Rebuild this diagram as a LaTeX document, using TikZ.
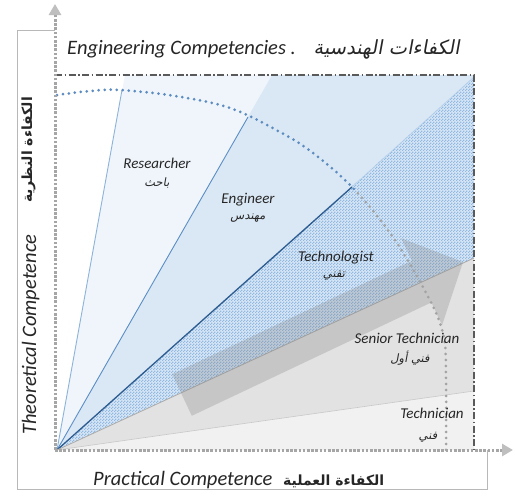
\documentclass[tikz,border=0pt]{standalone}
\usepackage{fontspec}
\setmainfont{Carlito}
\newfontfamily\arabicfont[Script=Arabic]{DejaVu Sans}
\newfontfamily\arabicslant[Script=Arabic,FakeSlant=0.18]{DejaVu Sans}
\TeXXeTstate=1
\usetikzlibrary{patterns,arrows.meta}
\pgfdeclarepatternformonly{finecheck}{\pgfpointorigin}{\pgfqpoint{3pt}{3pt}}{\pgfqpoint{3pt}{3pt}}{%
  \pgfpathrectangle{\pgfpointorigin}{\pgfqpoint{1.5pt}{1.5pt}}%
  \pgfpathrectangle{\pgfqpoint{1.5pt}{1.5pt}}{\pgfqpoint{1.5pt}{1.5pt}}%
  \pgfusepath{fill}}
\definecolor{blueA}{HTML}{EFF5FB}
\definecolor{blueB}{HTML}{DAE8F5}
\definecolor{blueC}{HTML}{D6E6F6}
\definecolor{hatchblue}{HTML}{93B9E1}
\definecolor{greyS}{HTML}{E2E2E2}
\definecolor{greyT}{HTML}{F1F1F1}
\definecolor{rayA}{HTML}{8DB3DA}
\definecolor{rayB}{HTML}{5B8EC6}
\definecolor{rayC}{HTML}{2D5C90}
\definecolor{axisgrey}{HTML}{A6A6A6}
\definecolor{arcblue}{HTML}{5D8CC0}
\definecolor{arcgrey}{HTML}{A3A3A3}
\definecolor{borderdark}{HTML}{5A5A5A}
\definecolor{txt}{HTML}{262626}
\tikzset{
  frameline/.style={draw=black!28, line width=0.8pt},
  rayline/.style={line width=0.9pt},
  axisline/.style={draw=axisgrey, line width=3pt, dash pattern=on 2.6pt off 1.6pt},
  axistip/.style={-{Triangle[width=12pt,length=11pt,fill=black!25,color=black!25]}},
  chartborder/.style={draw=borderdark, line width=1.3pt, dash pattern=on 7pt off 2.5pt on 1.5pt off 2.5pt},
  arcdots/.style={line width=3pt, line cap=round, dash pattern=on 0pt off 6pt},
  biglabel/.style={font=\fontsize{20.5}{24}\selectfont\itshape, text=txt, inner sep=0pt},
  arabbig/.style={font=\arabicfont\bfseries\fontsize{14}{18}\selectfont, text=txt, inner sep=0pt},
  lbl/.style={font=\fontsize{15}{17}\selectfont\itshape, text=txt, inner sep=0pt},
  albl/.style={font=\arabicslant\fontsize{11.5}{13}\selectfont, text=txt, inner sep=0pt},
}
\begin{document}
\begin{tikzpicture}[x=1pt,y=-1pt]
\useasboundingbox (0,0) rectangle (515,496);
\fill[white] (0,0) rectangle (515,496);

% outer thin frame
\draw[frameline] (55,30) -- (17,30) -- (17,489) -- (487,489) -- (487,450);

% key points
\coordinate (O) at (57,450);
\coordinate (r1) at (122,90);
\coordinate (r1t) at (125,75);
\coordinate (r2) at (248,117);
\coordinate (r2t) at (272,75);
\coordinate (r3) at (352,187);
\coordinate (r3t) at (474,77);
\coordinate (tr) at (474,75);
\coordinate (sEnd) at (474,258);
\coordinate (tEnd) at (474,391);
\coordinate (br) at (474,450);

% regions
\fill[blueA] (O) -- (r1t) -- (r2t) -- cycle;
\fill[blueB] (O) -- (r2t) -- (tr) -- (r3t) -- cycle;
\fill[blueC] (O) -- (r3t) -- (sEnd) -- cycle;
\fill[pattern=finecheck, pattern color=hatchblue] (O) -- (r3t) -- (sEnd) -- cycle;
\fill[greyS] (O) -- (sEnd) -- (tEnd) -- cycle;
\fill[greyT] (O) -- (tEnd) -- (br) -- cycle;

% ray lines
\draw[rayline, draw=rayA] (O) -- (r1);
\draw[rayline, draw=rayB] (O) -- (r2);
\draw[rayline, draw=rayC, line width=1.3pt] (O) -- (r3);
\draw[line width=0.6pt, draw=hatchblue!70] (r3) -- (r3t);
\draw[line width=0.8pt, draw=black!33] (O) -- (sEnd);
\draw[line width=0.6pt, draw=black!22] (O) -- (tEnd);

% big translucent arrow
\fill[black!50, fill opacity=0.28] (172.2,374.2) -- (411.8,260.8) -- (401.1,238.2) -- (463,262)
  -- (442.1,325) -- (431.4,302.4) -- (191.8,415.8) -- cycle;

% dotted arc
\begin{scope}
\clip (0,0) rectangle (356,496);
\draw[arcdots, draw=arcblue] plot[smooth, tension=0.6] coordinates {(57,95) (90,91) (120,90) (175,96) (230,108) (280,132) (313,153) (352,187) (390,233) (423,287) (443,333) (446,380) (446,450)};
\end{scope}
\begin{scope}
\clip (356,0) rectangle (515,496);
\draw[arcdots, draw=arcgrey] plot[smooth, tension=0.6] coordinates {(57,95) (90,91) (120,90) (175,96) (230,108) (280,132) (313,153) (352,187) (390,233) (423,287) (443,333) (446,380) (446,450)};
\end{scope}

% chart border
\draw[chartborder] (55,75) -- (tr) -- (br);

% axes
\coordinate (ytop) at (55,4);
\coordinate (xend) at (513,450);
\coordinate (ax0) at (55,450);
\draw[axisline, axistip] (ax0) -- (ytop);
\draw[axisline, axistip] (ax0) -- (xend);

% title
\node[biglabel, anchor=base west] (titleL) at (67,54) {Engineering Competencies .};
\node[anchor=base east, font=\arabicslant\fontsize{19.5}{22}\selectfont, text=txt, inner sep=0pt] (titleA) at (460,54) {\beginR الكفاءات الهندسية\endR};

% axis labels
\node[biglabel, anchor=base west] (xlabL) at (93,485) {Practical Competence};
\node[arabbig, anchor=base west] (xlabA) at (283,485) {\beginR الكفاءة العملية\endR};
\node[biglabel, rotate=90, anchor=base west] (ylabL) at (36,435) {Theoretical Competence};
\node[arabbig, rotate=90, anchor=base west] (ylabA) at (32,203) {\beginR الكفاءة النظرية\endR};

% region labels
\node[lbl] (res) at (157,163) {Researcher};
\node[albl] (resA) at (157,183) {\beginR باحث\endR};
\node[lbl] (eng) at (248,200) {Engineer};
\node[albl] (engA) at (248,218) {\beginR مهندس\endR};
\node[lbl] (tech) at (336,258) {Technologist};
\node[albl] (techA) at (334,276) {\beginR تقني\endR};
\node[lbl] (sen) at (407,338) {Senior Technician};
\node[albl] (senA) at (410,358) {\beginR فني أول\endR};
\node[lbl] (tcn) at (432,413) {Technician};
\node[albl] (tcnA) at (428,437) {\beginR فني\endR};
\end{tikzpicture}
\end{document}
